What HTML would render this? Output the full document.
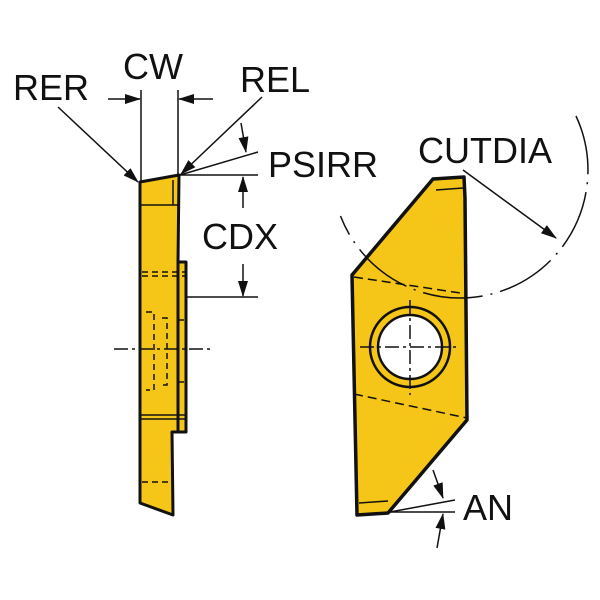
<!DOCTYPE html>
<html><head><style>body{margin:0;background:#fff}svg{display:block}text{font-family:"Liberation Sans",sans-serif;font-size:36px;fill:#111}</style></head>
<body>
<svg width="600" height="600" viewBox="0 0 600 600" xmlns="http://www.w3.org/2000/svg">
<defs><marker id="b" markerWidth="16" markerHeight="10" refX="15" refY="5" orient="auto" markerUnits="userSpaceOnUse"><path d="M0,0 L16,5 L0,10 Z" fill="#111"/></marker></defs>
<!-- Left insert -->
<g stroke="#111" stroke-width="3" fill="#f5c518" stroke-linejoin="round">
<polygon points="178,262 186,262 186,432 178,432"/>
<polygon points="140,182 179,175 178,262 178,432 172,432 173,515 140,503"/>
</g>
<g stroke="#111" stroke-width="1.5" fill="none">
<line x1="140" y1="205" x2="178" y2="205"/>
<line x1="173" y1="180" x2="173" y2="205"/>
<line x1="140" y1="415" x2="186" y2="415"/>
<line x1="140" y1="419" x2="186" y2="419"/>
<g stroke-dasharray="6,4"><line x1="142" y1="272" x2="186" y2="272"/><line x1="142" y1="276" x2="186" y2="276"/>
<path d="M146,312 H154 V390 H146"/><path d="M162,318 H167 V385 H160"/><line x1="178" y1="320" x2="186" y2="320"/><line x1="178" y1="382" x2="186" y2="382"/><line x1="142" y1="482" x2="170" y2="482"/></g>
<line x1="114" y1="349" x2="210" y2="349" stroke-dasharray="14,4,3,4"/>
<line x1="186" y1="297" x2="258" y2="297"/>
</g>
<!-- Right insert -->
<g stroke="#111" stroke-width="3.5" fill="#f5c518" stroke-linejoin="round">
<polygon points="433,179 464,177 465,198 467,420 388,513 357,515 352,275"/>
</g>
<g stroke="#111" stroke-width="1.5" fill="none">
<path d="M576,116 A128,128 0 1 1 340.5,216" stroke-dasharray="60,8,2,8"/>
<line x1="436" y1="190" x2="463" y2="188"/>
<g stroke-dasharray="9,5"><line x1="354" y1="277" x2="467" y2="294"/><line x1="354" y1="394" x2="467" y2="418"/></g>
<circle cx="410" cy="347" r="40" fill="#f5c518" stroke-width="2.5"/>
<circle cx="410" cy="347" r="32" fill="#fff" stroke-width="2.5"/>
<line x1="360" y1="347" x2="460" y2="347" stroke-dasharray="14,4,3,4"/>
<line x1="410" y1="300" x2="410" y2="395" stroke-dasharray="14,4,3,4"/>
<line x1="359" y1="503" x2="388" y2="501"/>
<line x1="141" y1="90" x2="141" y2="183"/><line x1="178" y1="90" x2="178" y2="175"/>
<line x1="108" y1="99" x2="140" y2="99" marker-end="url(#b)"/>
<line x1="213" y1="99" x2="179" y2="99" marker-end="url(#b)"/>
<line x1="58" y1="107" x2="138" y2="182" marker-end="url(#b)"/>
<line x1="262" y1="97" x2="181" y2="174" marker-end="url(#b)"/>
<line x1="180" y1="175" x2="258" y2="152"/><line x1="180" y1="175" x2="258" y2="175"/>
<line x1="241" y1="123" x2="246" y2="152" marker-end="url(#b)"/>
<line x1="243" y1="208" x2="243" y2="177" marker-end="url(#b)"/>
<line x1="243" y1="264" x2="243" y2="296" marker-end="url(#b)"/>
<line x1="463" y1="170" x2="556" y2="238" marker-end="url(#b)"/>
<line x1="390" y1="512" x2="455" y2="500"/><line x1="390" y1="512" x2="455" y2="512"/>
<line x1="433" y1="470" x2="443" y2="498" marker-end="url(#b)"/>
<line x1="437" y1="548" x2="443" y2="514" marker-end="url(#b)"/>
</g>
<text x="13" y="100">RER</text>
<text x="123" y="79">CW</text>
<text x="240" y="92">REL</text>
<text x="268" y="177">PSIRR</text>
<text x="202" y="249">CDX</text>
<text x="418" y="163">CUTDIA</text>
<text x="463" y="520">AN</text>
</svg>
</body></html>
